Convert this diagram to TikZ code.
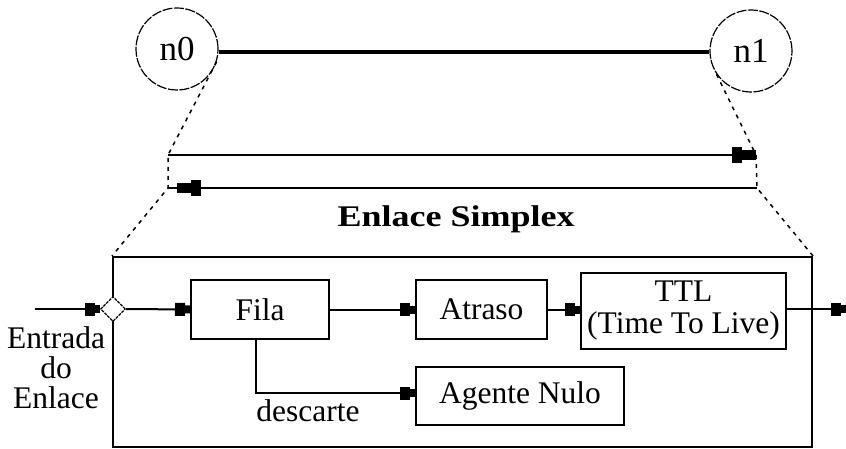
\documentclass[tikz,border=0pt]{standalone}
\usepackage{fontspec}
\setmainfont{Liberation Serif}
\usetikzlibrary{arrows.meta,shapes.geometric}
\tikzset{
  txt/.style={font=\fontsize{31.5}{29}\selectfont, inner sep=0pt, align=center},
  blockbox/.style={draw, line width=2pt, txt, inner sep=0pt},
  conn/.style={line width=2pt},
  arr/.style={conn, -{Rectangle[length=10pt,width=13pt]Rectangle[length=5pt,width=8pt]}},
  bigarr/.style={conn, -{Rectangle[length=10pt,width=16pt]Rectangle[length=14pt,width=10pt]}},
  zoomline/.style={line width=1.5pt, dash pattern=on 4pt off 5pt},
  nodecircle/.style={circle, draw, line width=1.2pt, dash pattern=on 10pt off 1.5pt, minimum size=82pt, inner sep=0pt, txt, font=\fontsize{35}{35}\selectfont},
}
\begin{document}
\begin{tikzpicture}[x=1pt,y=-1pt]
\useasboundingbox (0,0) rectangle (846,449);
% nodes top
\node[nodecircle] (n0) at (177,49) {n0};
\node[nodecircle] (n1) at (751,51) {n1};
\draw[line width=4.5pt] (n0.east |- 0,52) -- (n1.west |- 0,52);
% zoom coordinates
\coordinate (a1) at (168,155);
\coordinate (a2) at (168,188);
\coordinate (b1) at (756,155);
\coordinate (b2) at (757,188);
% big box
\node[draw, line width=2pt, minimum width=699pt, minimum height=190pt, inner sep=0pt] (box) at (462.5,352) {};
\draw[zoomline] (n0.-18) -- (a1) -- (a2) -- (box.north west);
\draw[zoomline] (n1.-146) -- (b1) -- (b2) -- (box.north east);
\draw[bigarr] (a1) -- (b1);
\draw[bigarr] (b2) -- (177,188);
\draw[conn] (177,188) -- (a2);
\node[txt, font=\bfseries\fontsize{30}{30}\selectfont] (title) at (456,219) {\scalebox{1.2}[1]{Enlace Simplex}};
% inner blocks
\node[diamond, draw, line width=1.2pt, dash pattern=on 3pt off 1pt, fill=white, minimum size=25pt, inner sep=0pt] (dia) at (113,309) {};
\coordinate (in0) at (35,309);
\coordinate (out0) at (846,309);
\node[blockbox, minimum width=138pt, minimum height=59pt] (fila) at (260,309.5) {Fila};
\node[blockbox, minimum width=131pt, minimum height=59pt] (atraso) at (481.5,309.5) {Atraso};
\node[blockbox, minimum width=205pt, minimum height=76pt, font=\fontsize{31.5}{32}\selectfont] (ttl) at (683.5,311) {TTL\\(Time To Live)};
\node[blockbox, minimum width=208pt, minimum height=58pt] (agente) at (520,396) {Agente Nulo};
\node[txt, font=\fontsize{31.5}{30}\selectfont] (entrada) at (56,368) {Entrada\\do\\Enlace};
\node[txt] (desc) at (308,411) {descarte};
% connectors
\draw[arr] (in0) -- (dia.west);
\draw[arr] (dia.east) -- (fila.west);
\draw[arr] (fila.east) -- (atraso.west);
\draw[arr] (atraso.east) -- (ttl.west |- atraso.east);
\draw[arr] (ttl.east |- out0) -- (out0);
\draw[arr] (fila.south -| 256,0) |- (agente.west |- 0,393);
\end{tikzpicture}
\end{document}
